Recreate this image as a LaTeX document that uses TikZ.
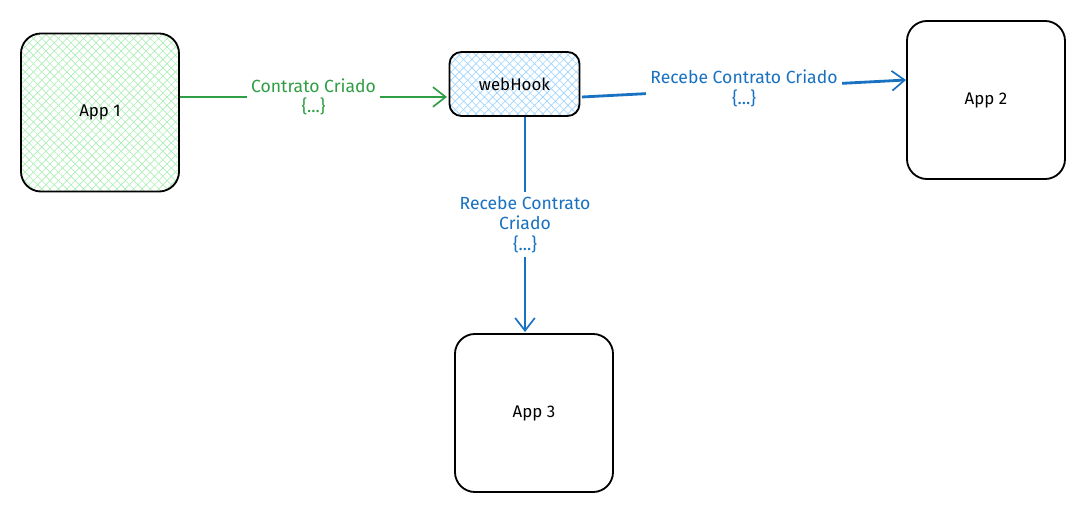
\documentclass[tikz,border=0pt]{standalone}
\usepackage{fontspec}
\setmainfont{Fira Sans}
\usetikzlibrary{arrows.meta,patterns.meta}
\definecolor{hookblue}{HTML}{1971C2}
\definecolor{pathgreen}{HTML}{2F9E44}
\definecolor{hatchgreen}{HTML}{A9EDB2}
\definecolor{hatchblue}{HTML}{9DD3FD}
\tikzset{
  app/.style={draw=black, line width=1.3pt, rounded corners=0.5cm,
    minimum width=3.95cm, minimum height=3.95cm, font=\fontsize{12}{14}\selectfont},
  hatched/.style={preaction={pattern={Lines[angle=45,distance=4.2pt,line width=0.45pt]}, pattern color=#1},
    pattern={Lines[angle=-45,distance=4.2pt,line width=0.45pt]}, pattern color=#1},
  msg/.style={fill=white, align=center, inner sep=3pt, font=\fontsize{12.5}{14.5}\selectfont},
  flow/.style={-{Straight Barb[length=9pt,width=14pt,line width=1.2pt]}}
}
\begin{document}
\begin{tikzpicture}[x=0.025cm,y=-0.025cm]
  \useasboundingbox (0,0) rectangle (1088,523);
  \node[app, hatched=hatchgreen] (app1) at (100,112.5) {App 1};
  \node[app] (app2) at (986,100) {App 2};
  \node[app] (app3) at (534,413) {App 3};
  \node[app, hatched=hatchblue, rounded corners=0.3cm,
    minimum width=3.25cm, minimum height=1.6cm] (hook) at (514.5,84) {};
  \node[font=\fontsize{12}{14}\selectfont] (hooklabel) at (514.5,84) {webHook};
  \coordinate (g1) at (180,97);
  \coordinate (g2) at (447,97);
  \coordinate (b1) at (582,97);
  \coordinate (b2) at (906,80);
  \coordinate (d1) at (525,117);
  \coordinate (d2) at (525,332);
  \begin{scope}[flow]
    \draw[pathgreen, line width=1.3pt] (g1) -- node[msg, text=pathgreen] (glabel) {Contrato Criado\\\{...\}} (g2);
    \draw[hookblue, line width=2pt] (b1) -- node[msg, text=hookblue] (blabel) {Recebe Contrato Criado\\\{...\}} (b2);
    \draw[hookblue, line width=1.5pt] (d1) -- node[msg, text=hookblue] (dlabel) {Recebe Contrato\\Criado\\\{...\}} (d2);
  \end{scope}
\end{tikzpicture}
\end{document}
